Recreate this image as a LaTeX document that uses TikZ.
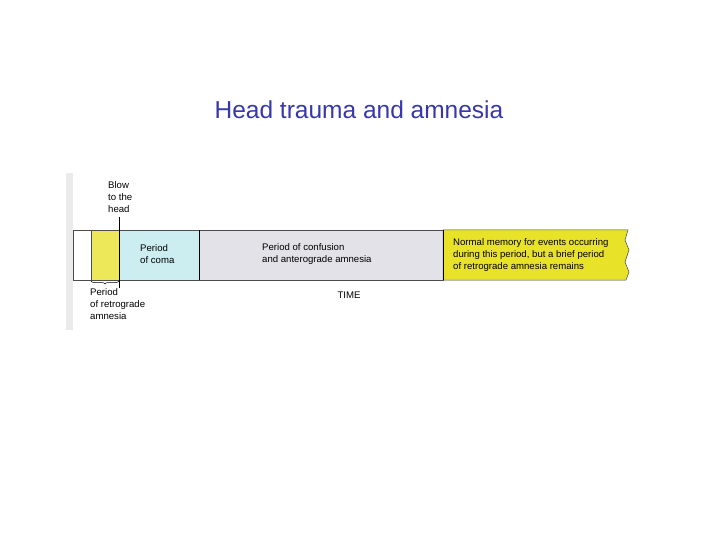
\documentclass[tikz,border=0pt]{standalone}
\usepackage{fontspec}
\setmainfont{Liberation Sans}
\usetikzlibrary{decorations.pathreplacing}
\definecolor{ttl}{RGB}{55,55,170}
\definecolor{yel}{RGB}{236,232,90}
\definecolor{cya}{RGB}{205,238,240}
\definecolor{gry}{RGB}{226,226,232}
\definecolor{yel2}{RGB}{232,226,40}
\tikzset{lbl/.style={font=\fontsize{9.6}{12}\selectfont,align=left,anchor=west,inner sep=0pt},
seg/.style={draw=black!70,line width=0.5pt}}
\begin{document}
\begin{tikzpicture}[x=1pt,y=-1pt]
\useasboundingbox (0,0) rectangle (720,540);
\fill[black!8] (66,173) rectangle (73,330);
\node[font=\fontsize{24.5}{28}\selectfont,text=ttl] (title) at (359,110) {Head trauma and amnesia};
\draw[seg,fill=white] (73,230) rectangle (91,280);
\draw[seg,fill=yel] (91,230) rectangle (119,280);
\draw[seg,fill=cya] (119,230) rectangle (199,280);
\draw[seg,fill=gry] (199,230) rectangle (443,280);
\draw[seg,fill=yel2] (443,230) -- (628,230) -- (625,240) -- (629,250) -- (625,262) -- (629,272) -- (626,280) -- (443,280) -- cycle;
\draw[line width=1pt] (199,230) -- (199,280);
\draw[line width=1pt] (443,230) -- (443,280);
\draw[line width=0.7pt] (119,217) -- (119,288);
\draw[line width=0.5pt,decorate,decoration={brace,amplitude=3pt,mirror}] (91,281) -- (119,281);
\node[lbl] (blow) at (108,197) {Blow\\to the\\head};
\node[lbl] (coma) at (140,254) {Period\\of coma};
\node[lbl] (conf) at (262,254) {Period of confusion\\and anterograde amnesia};
\node[lbl] (norm) at (453,255) {Normal memory for events occurring\\during this period, but a brief period\\of retrograde amnesia remains};
\node[lbl] (retro) at (90,304) {Period\\of retrograde\\amnesia};
\node[font=\fontsize{9.6}{12}\selectfont] (time) at (349,295) {TIME};
\end{tikzpicture}
\end{document}
